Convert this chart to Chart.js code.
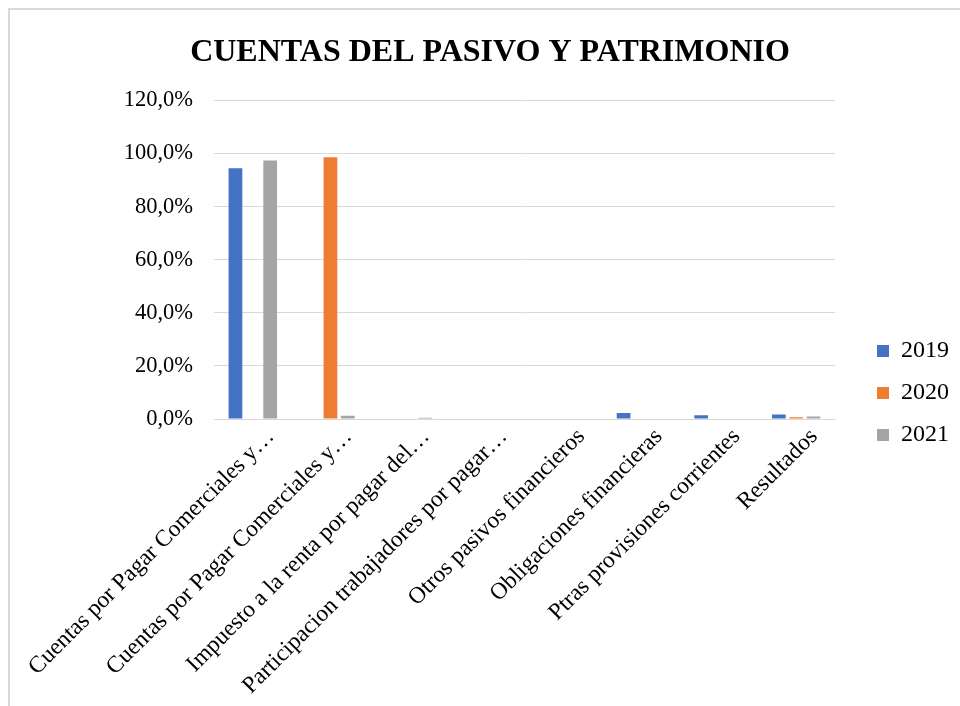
<!DOCTYPE html>
<html>
<head>
<meta charset="utf-8">
<script src="https://cdn.jsdelivr.net/npm/chart.js@4/dist/chart.umd.min.js"></script>
<style>
  html, body { margin: 0; padding: 0; background: #fff; }
  #wrap { position: relative; width: 960px; height: 706px; overflow: hidden; }
  #frame { position: absolute; left: 8px; top: 8px; width: 1000px; height: 800px;
           border-left: 2px solid #d9d9d9; border-top: 2px solid #d9d9d9; }
  #chart { position: absolute; left: 0; top: 0; }
</style>
</head>
<body>
<div id="wrap">
  <div id="frame"></div>
  <canvas id="chart" width="960" height="706"></canvas>
</div>
<script>
// ====== DATA ======
const categories = [
    "Cuentas por Pagar Comerciales y…",
    "Cuentas por Pagar Comerciales y…",
    "Impuesto a la renta por pagar del…",
    "Participacion trabajadores por pagar…",
    "Otros pasivos financieros",
    "Obligaciones financieras",
    "Ptras provisiones corrientes",
    "Resultados"
];
const years = ["2019", "2020", "2021"];
const values2019 = [94.4, 0, 0, 0, 0, 2.3, 1.4, 1.7];
const values2020 = [0, 98.6, 0, 0, 0.2, 0, 0, 0.7];
const values2021 = [97.4, 1.2, 0.5, 0, 0, 0, 0, 0.9];
const colors = ["#4472C4", "#ED7D31", "#A5A5A5"];

const serif = "'Liberation Serif', 'Times New Roman', serif";
const tickFmt = v => v.toFixed(1).replace('.', ',') + '%';

// legend sits a bit lower and further right than Chart.js puts it
const legendPlace = {
    id: 'legendPlace',
    beforeLayout(chart) {
        const lg = chart.legend;
        if (lg && !lg._patched) {
            const fit = lg.fit.bind(lg);
            lg.fit = function () { fit(); this.width = 125; };
            lg._patched = true;
        }
    },
    afterLayout(chart) {
        const lg = chart.legend;
        lg.left += 24; lg.right += 24;
        lg.top += 46; lg.bottom += 46;
    }
};

// ====== CHART ======
new Chart(document.getElementById("chart"), {
    type: 'bar',
    data: {
        labels: categories,
        datasets: [values2019, values2020, values2021].map((d, i) => ({
            label: years[i],
            data: d,
            backgroundColor: colors[i],
            categoryPercentage: 0.671,
            barPercentage: 0.79
        }))
    },
    options: {
        responsive: false,
        animation: false,
        layout: { padding: { left: 20, right: 0, top: 0, bottom: 12 } },
        plugins: {
            title: {
                display: true,
                text: "CUENTAS DEL PASIVO Y PATRIMONIO",
                color: '#000',
                font: { family: serif, size: 32, weight: 'bold' },
                padding: { top: 34, bottom: 28 }
            },
            legend: {
                position: 'right',
                labels: {
                    color: '#000',
                    font: { family: serif, size: 24 },
                    boxWidth: 12,
                    boxHeight: 12,
                    padding: 18
                }
            },
            tooltip: { enabled: false }
        },
        scales: {
            x: {
                grid: { display: false, drawTicks: false },
                border: { color: '#d9d9d9', width: 1 },
                ticks: {
                    color: '#000',
                    font: { family: serif, size: 23.5 },
                    minRotation: 45,
                    maxRotation: 45,
                    autoSkip: false,
                    padding: 4,
                    labelOffset: 18
                },
                afterFit: s => { s.height = 706 - 419 - 12; s.paddingLeft = 0; s.paddingRight = 0; }
            },
            y: {
                min: 0,
                max: 120,
                grid: { color: '#d9d9d9', drawTicks: false },
                border: { display: false },
                ticks: {
                    stepSize: 20,
                    color: '#000',
                    font: { family: serif, size: 22.5 },
                    padding: 21,
                    callback: tickFmt
                },
                afterFit: s => { s.width = 194; }
            }
        }
    },
    plugins: [legendPlace]
});
</script>
</body>
</html>
